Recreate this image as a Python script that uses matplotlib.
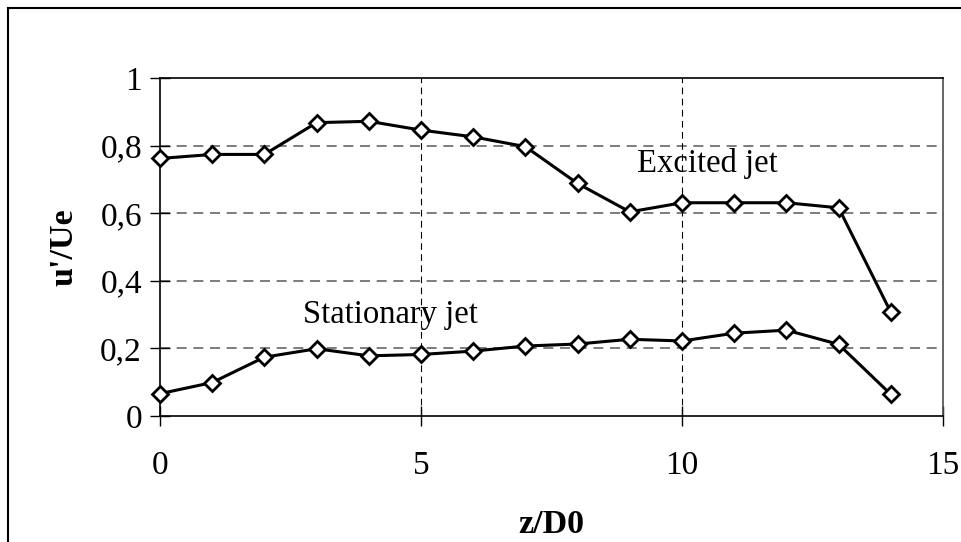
import matplotlib.pyplot as plt
from matplotlib.lines import Line2D

# data
z = [0, 1, 2, 3, 4, 5, 6, 7, 8, 9, 10, 11, 12, 13, 14]
excited = [0.762, 0.774, 0.774, 0.868, 0.872, 0.846, 0.826, 0.797,
           0.688, 0.604, 0.631, 0.631, 0.631, 0.616, 0.307]
stationary = [0.066, 0.099, 0.174, 0.199, 0.178, 0.182, 0.192, 0.207,
              0.213, 0.227, 0.222, 0.245, 0.254, 0.212, 0.064]

plt.rcParams['font.family'] = ['Liberation Serif', 'DejaVu Serif']

fig = plt.figure(figsize=(9.61, 5.42), dpi=100)
ax = fig.add_axes([0.1665, 0.2325, 0.8148, 0.6235])

# grid lines
for yv in [0.2, 0.4, 0.6, 0.8]:
    ax.axhline(yv, color='0.4', lw=1.2, dashes=(6, 4), zorder=1)
for xv in [5, 10]:
    ax.axvline(xv, color='black', lw=0.8, dashes=(6, 4), zorder=1)

for series in [excited, stationary]:
    ax.plot(z, series, color='black', lw=2.2, marker='D', ms=8.5,
            mfc='white', mec='black', mew=2, zorder=3, clip_on=False)

ax.text(10.48, 0.748, 'Excited jet', fontsize=23.5, ha='center', va='center')
ax.text(4.41, 0.299, 'Stationary jet', fontsize=23.5, ha='center', va='center')

ax.set_xlim(0, 15)
ax.set_ylim(0, 1)
ax.set_xticks([0, 5, 10, 15])
ax.set_yticks([0, 0.2, 0.4, 0.6, 0.8, 1])
ax.set_yticklabels(['0', '0,2', '0,4', '0,6', '0,8', '1'])
ax.tick_params(labelsize=24, length=14, width=1, direction='inout')
ax.tick_params(axis='y', pad=6)
ax.tick_params(axis='x', pad=18)
ax.set_xlabel('z/D0', fontsize=24.5, fontweight='bold', labelpad=20)
ax.set_ylabel("u'/Ue", fontsize=24.5, fontweight='bold', labelpad=15)

for sp in ax.spines.values():
    sp.set_linewidth(1.2)
ax.spines['right'].set_color('0.3')

# chart frame (only left and top edges show in the crop)
fx, fy = 8 / 961, 1 - 8 / 542
fig.add_artist(Line2D([fx, fx], [0, fy], transform=fig.transFigure, color='black', lw=1.5))
fig.add_artist(Line2D([fx, 1], [fy, fy], transform=fig.transFigure, color='black', lw=1.5))

fig.savefig('out.png', dpi=100)
